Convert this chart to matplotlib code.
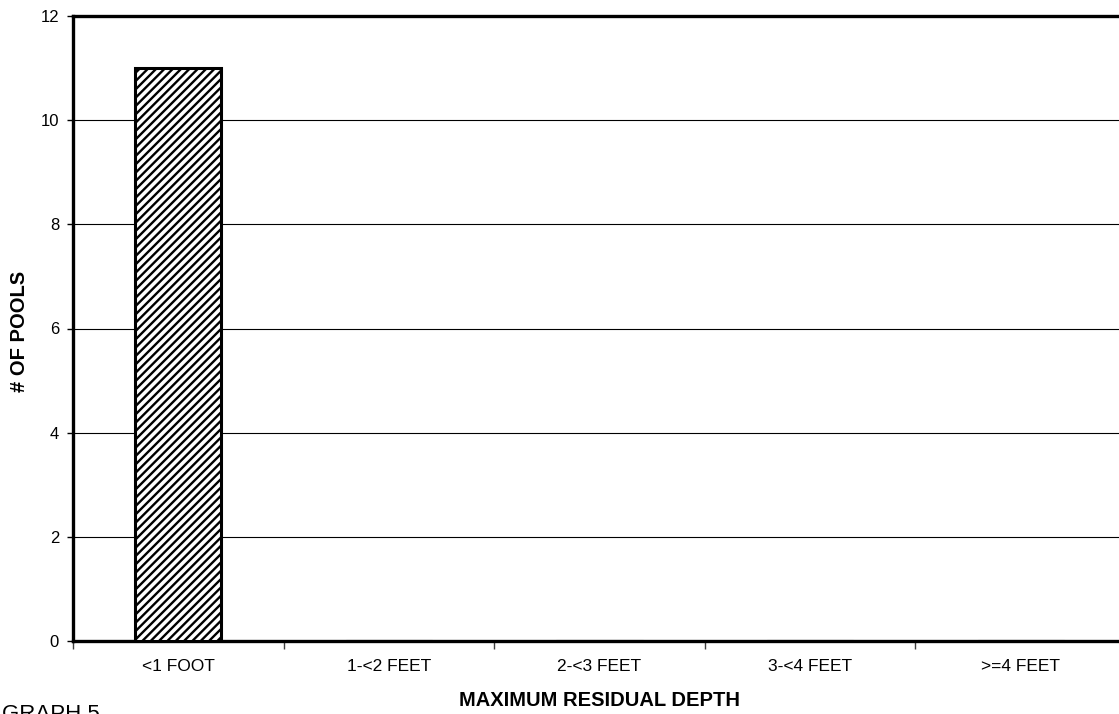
import matplotlib
matplotlib.use("Agg")
import matplotlib.pyplot as plt
import numpy as np

categories = ["<1 FOOT", "1-<2 FEET", "2-<3 FEET", "3-<4 FEET", ">=4 FEET"]
pools = [11, 0, 0, 0, 0]
yticks = [0, 2, 4, 6, 8, 10, 12]

plt.rcParams['font.family'] = ['Liberation Sans', 'DejaVu Sans']
plt.rcParams['hatch.linewidth'] = 1.7

W, H = 1119, 714
fig = plt.figure(figsize=(W/100, H/100), dpi=100)
left, right, top, bottom = 73, 1126, 16, 641
ax = fig.add_axes([left/W, 1-bottom/H, (right-left)/W, (bottom-top)/H])

x = np.arange(len(categories))
ax.bar(x, pools, width=0.41, color='white', edgecolor='black', linewidth=2.2,
       hatch='////', zorder=3)

ax.set_xlim(-0.5, len(categories)-0.5)
ax.set_ylim(0, 12)
ax.set_yticks(yticks)
ax.set_yticklabels([str(t) for t in yticks], fontsize=12)
ax.yaxis.grid(True, color='black', linewidth=0.8, zorder=0)
ax.set_axisbelow(True)

ax.set_xticks(np.arange(len(categories)+1)-0.5)
ax.set_xticklabels([])
ax.set_xticks(x, minor=True)
ax.set_xticklabels(categories, minor=True, fontsize=12.5)
ax.tick_params(axis='x', which='minor', length=0, pad=13)
ax.tick_params(axis='x', which='major', length=6, width=1, color='#404040', direction='out')
ax.tick_params(axis='y', length=4, width=1, direction='out', pad=6)

for s in ax.spines.values():
    s.set_linewidth(2.4)

ax.set_ylabel("# OF POOLS", fontsize=14.5, fontweight='bold')
ax.yaxis.set_label_coords((29-left)/(right-left), 0.495)
ax.set_xlabel("MAXIMUM RESIDUAL DEPTH", fontsize=14.5, fontweight='bold')
ax.xaxis.set_label_coords(0.5, -(691-bottom)/(bottom-top))

fig.text(2/W, 1-720/H, "GRAPH 5", fontsize=16, ha='left', va='baseline')

fig.savefig("out.png", dpi=100)
